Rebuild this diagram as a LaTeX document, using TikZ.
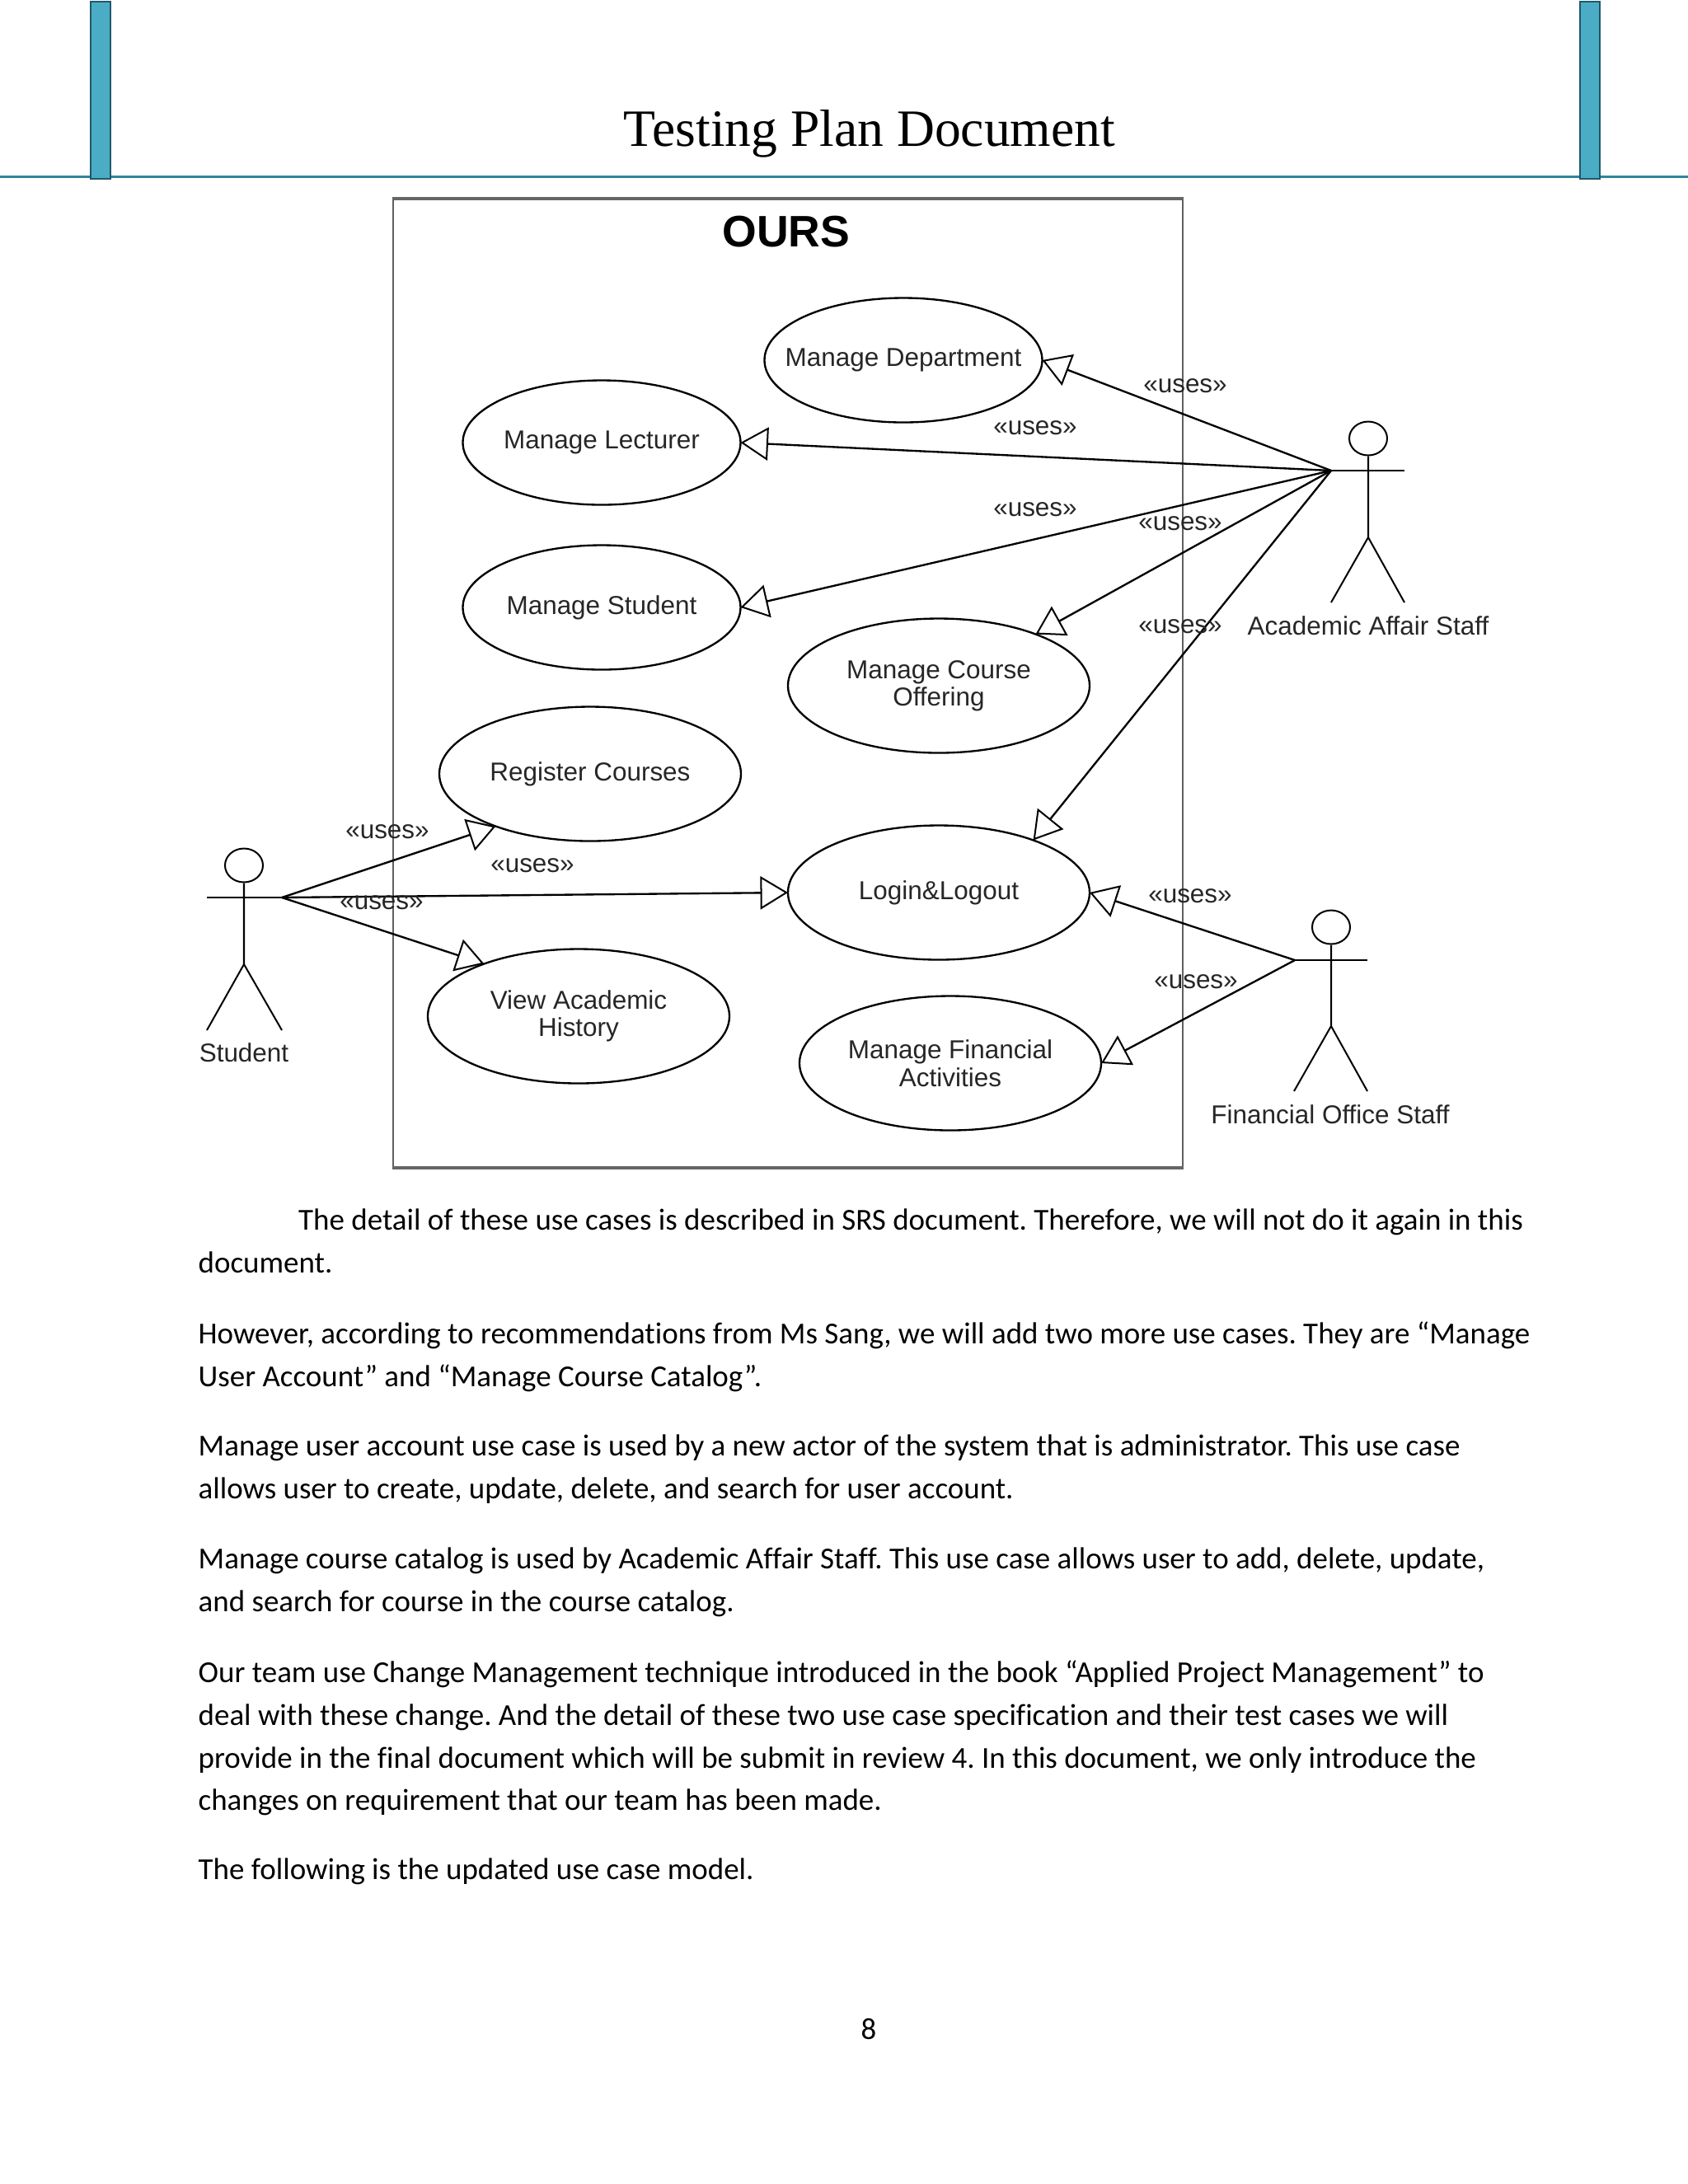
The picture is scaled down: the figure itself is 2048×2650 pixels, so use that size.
\documentclass[tikz,border=0pt]{standalone}
\usepackage{fontspec}
\usepackage{tikz}
\usetikzlibrary{shapes.geometric}
\usetikzlibrary{arrows.meta}
\setmainfont{Carlito}[Ligatures={NoCommon}]
\newfontfamily\diagramfont{Liberation Sans}
\newfontfamily\titlefont{Liberation Serif}
\definecolor{barblue}{HTML}{4BACC6}
\definecolor{bardark}{HTML}{205867}
\definecolor{rulegreen}{HTML}{31849B}

\begin{document}
\frenchspacing
\begin{tikzpicture}[x=0.2988pt,y=-0.2988pt]
    \tikzset{usecase/.style={draw,ellipse,line width=0.7pt,inner sep=0pt,outer sep=0pt,minimum width=366*0.2988pt,minimum height=163*0.2988pt,align=center,text=black!85,font=\diagramfont\fontsize{9.4}{10}\selectfont}}
    \tikzset{wide/.style={inner xsep=-10pt,minimum width=337*0.2988pt,minimum height=151*0.2988pt}}
    \tikzset{uses/.style={inner sep=0pt,yshift=-0.5pt,text=black!85,font=\diagramfont\fontsize{9.4}{11}\selectfont}}
    \tikzset{actorname/.style={inner sep=0pt,text=black!85,font=\diagramfont\fontsize{9.4}{11}\selectfont}}
    \tikzset{stick/.style={line width=0.6pt}}
    \tikzset{realize/.style={line width=0.7pt,-{Triangle[open,length=10pt,width=12pt,line width=0.6pt]}}}
    \tikzset{para/.style={anchor=north west,inner sep=0pt,align=left,font=\fontsize{11.05}{15.5}\selectfont}}
    \useasboundingbox (0,0) rectangle (2048,2650);
    % header
    \draw[rulegreen,line width=0.9pt] (0,214) -- (2048,214);
    \draw[bardark,fill=barblue,line width=0.7pt] (110,2) rectangle (134,217);
    \draw[bardark,fill=barblue,line width=0.7pt] (1917,2) rectangle (1941,217);
    \node[inner sep=0pt,anchor=base,font=\titlefont\fontsize{19}{22}\selectfont] (title) at (1055,177) {Testing Plan Document};
    % system box
    \node[draw,line width=0.6pt,inner sep=0pt,minimum width=958*0.2988pt,minimum height=1174*0.2988pt,gray!75!black] (ours) at (956,829) {};
    \draw[black!60,line width=1.3pt] (ours.north west) -- (ours.north east);
    \draw[black!60,line width=1.3pt] (ours.south west) -- (ours.south east);
    \node[inner sep=0pt,font=\diagramfont\bfseries\fontsize{16}{18}\selectfont] (name) at (954,281) {OURS};
    % use cases
    \node[usecase,wide] (dept) at (1096,437) {Manage Department};
    \node[usecase,wide] (lect) at (730,537) {Manage Lecturer};
    \node[usecase,wide] (stud) at (730,737) {Manage Student};
    \node[usecase] (offer) at (1139,832) {Manage Course\\Offering};
    \node[usecase] (reg) at (716,939) {Register Courses};
    \node[usecase] (login) at (1139,1083) {Login\&Logout};
    \node[usecase] (view) at (702,1233) {View Academic\\History};
    \node[usecase] (fin) at (1153,1290) {Manage Financial\\Activities};
    % actors
    \node[draw,stick,ellipse,inner sep=0pt,minimum width=46*0.2988pt,minimum height=41*0.2988pt] (acadhead) at (1660,532) {};
    \coordinate (acadhand) at (1615,571);
    \coordinate (acadhip) at (1660,652);
    \draw[stick] (acadhead) -- (acadhip) -- (1615,731) (acadhip) -- (1704,731);
    \draw[line width=0.8pt] (acadhand) -- (1704,571);
    \node[actorname] (acadname) at (1660,759) {Academic Affair Staff};
    \node[draw,stick,ellipse,inner sep=0pt,minimum width=46*0.2988pt,minimum height=41*0.2988pt] (stuhead) at (296,1050) {};
    \coordinate (stuhand) at (342,1089);
    \coordinate (stuhip) at (296,1170);
    \draw[stick] (stuhead) -- (stuhip) -- (251,1250) (stuhip) -- (342,1250);
    \draw[line width=0.8pt] (251,1089) -- (stuhand);
    \node[actorname] (stuname) at (296,1277) {Student};
    \node[draw,stick,ellipse,inner sep=0pt,minimum width=46*0.2988pt,minimum height=41*0.2988pt] (finhead) at (1615,1125) {};
    \coordinate (finhand) at (1571,1165);
    \coordinate (finhip) at (1615,1245);
    \draw[stick] (finhead) -- (finhip) -- (1570,1324) (finhip) -- (1659,1324);
    \draw[line width=0.8pt] (finhand) -- (1659,1165);
    \node[actorname] (finname) at (1614,1352) {Financial Office Staff};
    % connectors
    \path[realize]
    (acadhand)
    edge (dept.east)
    edge (lect.east)
    edge (stud.east)
    edge (offer.28)
    edge (login.29)
    (stuhand)
    edge (reg.209)
    edge (login.west)
    edge (view.151)
    (finhand)
    edge (login.east)
    edge (fin.east)
    ;
    % stereotypes
    \node[uses] (u1) at (1438,466) {«uses»};
    \node[uses] (u2) at (1256,517) {«uses»};
    \node[uses] (u3) at (1256,616) {«uses»};
    \node[uses] (u4) at (1432,633) {«uses»};
    \node[uses] (u5) at (1432,758) {«uses»};
    \node[uses] (u6) at (470,1007) {«uses»};
    \node[uses] (u7) at (646,1048) {«uses»};
    \node[uses] (u8) at (463,1093) {«uses»};
    \node[uses] (u9) at (1444,1085) {«uses»};
    \node[uses] (u10) at (1451,1189) {«uses»};
    % body text
    \node[para] (p1) at (240,1466) {\hspace*{36.3pt}The detail of these use cases is described in SRS document. Therefore, we will not do it again in this\\document.};
    \node[para] (p2) at (240,1603) {However, according to recommendations from Ms Sang, we will add two more use cases. They are “Manage\\User Account” and “Manage Course Catalog”.};
    \node[para] (p3) at (240,1740) {Manage user account use case is used by a new actor of the system that is administrator. This use case\\allows user to create, update, delete, and search for user account.};
    \node[para] (p4) at (240,1877) {Manage course catalog is used by Academic Affair Staff. This use case allows user to add, delete, update,\\and search for course in the course catalog.};
    \node[para] (p5) at (240,2014) {Our team use Change Management technique introduced in the book “Applied Project Management” to\\deal with these change. And the detail of these two use case specification and their test cases we will\\provide in the final document which will be submit in review 4. In this document, we only introduce the\\changes on requirement that our team has been made.};
    \node[para] (p6) at (240,2254) {The following is the updated use case model.};
    \node[inner sep=0pt,font=\fontsize{11}{13}\selectfont] (page) at (1054,2462) {8};
  \end{tikzpicture}
\end{document}
